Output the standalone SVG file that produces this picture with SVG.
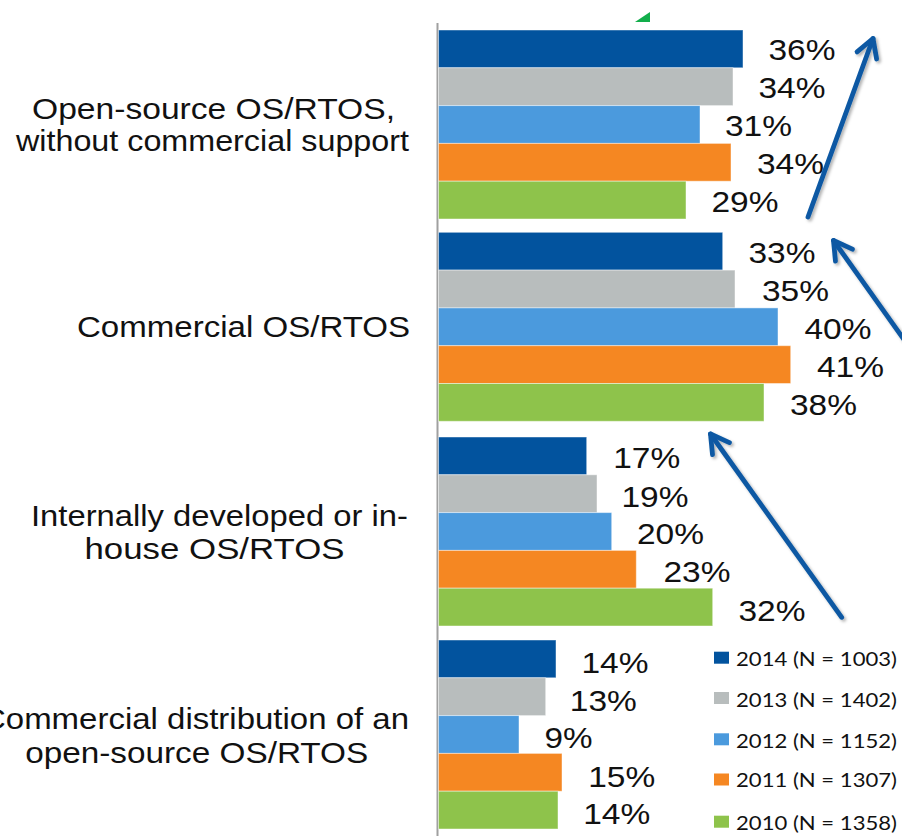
<svg xmlns="http://www.w3.org/2000/svg" width="902" height="836" viewBox="0 0 902 836">
<style>
.lbl{font-family:"Liberation Sans",Arial,sans-serif;font-size:30px;fill:#111}
.cat{font-family:"Liberation Sans",Arial,sans-serif;font-size:30px;fill:#111;text-anchor:middle}
.leg{font-family:Lato,"Liberation Sans",sans-serif;font-size:20px;fill:#111}
.y14{fill:#02539E}.y13{fill:#B8BDBD}.y12{fill:#4B9ADD}.y11{fill:#F58722}.y10{fill:#8EC34B}
.bar rect{stroke:#fff;stroke-opacity:.45;stroke-width:1}
.arr{fill:none;stroke:#0B58A3;stroke-width:4.8;stroke-linecap:round;stroke-linejoin:round}
</style>
<defs>
<filter id="sh" x="-20%" y="-20%" width="140%" height="140%">
<feDropShadow dx="2" dy="2" stdDeviation="1.5" flood-color="#000" flood-opacity="0.3"/>
</filter>
<marker id="ah" markerUnits="userSpaceOnUse" orient="auto" refX="0" refY="0" markerWidth="30" markerHeight="30" overflow="visible">
<path d="M-18,-10.4 L0,0 L-18,10.4" fill="none" stroke="#0B58A3" stroke-width="4.8" stroke-linecap="round" stroke-linejoin="round"/>
</marker>
</defs>
<rect width="902" height="836" fill="#fff"/>
<polygon points="635,22 650,22 650,12" fill="#12AE4B"/>
<line x1="437.5" y1="23" x2="437.5" y2="836" stroke="#A0A0A0" stroke-width="2"/>

<g id="open-source">
<text class="cat" x="213.5" y="119" textLength="363" lengthAdjust="spacingAndGlyphs">Open-source OS/RTOS,</text>
<text class="cat" x="212.5" y="151" textLength="393" lengthAdjust="spacingAndGlyphs">without commercial support</text>
<g class="bar">
<rect class="y14" x="438.5" y="30" width="304.5" height="37.8"/>
<rect class="y13" x="438.5" y="67.8" width="294.5" height="37.8"/>
<rect class="y12" x="438.5" y="105.6" width="261.5" height="37.8"/>
<rect class="y11" x="438.5" y="143.4" width="292.5" height="37.8"/>
<rect class="y10" x="438.5" y="181.2" width="247.5" height="37.8"/>
</g>
<text class="lbl" x="768.5" y="60" textLength="67" lengthAdjust="spacingAndGlyphs">36%</text>
<text class="lbl" x="758.5" y="98.3" textLength="67" lengthAdjust="spacingAndGlyphs">34%</text>
<text class="lbl" x="725" y="136" textLength="67" lengthAdjust="spacingAndGlyphs">31%</text>
<text class="lbl" x="757" y="174" textLength="67" lengthAdjust="spacingAndGlyphs">34%</text>
<text class="lbl" x="711.5" y="212.3" textLength="67" lengthAdjust="spacingAndGlyphs">29%</text>
</g>

<g id="commercial">
<text class="cat" x="243.5" y="337.3" textLength="333" lengthAdjust="spacingAndGlyphs">Commercial OS/RTOS</text>
<g class="bar">
<rect class="y14" x="438.5" y="232.3" width="284.2" height="37.8"/>
<rect class="y13" x="438.5" y="270.1" width="296.5" height="37.8"/>
<rect class="y12" x="438.5" y="307.9" width="339.5" height="37.8"/>
<rect class="y11" x="438.5" y="345.7" width="352.2" height="37.8"/>
<rect class="y10" x="438.5" y="383.5" width="325.5" height="37.8"/>
</g>
<text class="lbl" x="748.5" y="263.3" textLength="67" lengthAdjust="spacingAndGlyphs">33%</text>
<text class="lbl" x="762" y="301" textLength="67" lengthAdjust="spacingAndGlyphs">35%</text>
<text class="lbl" x="804.5" y="339.3" textLength="67" lengthAdjust="spacingAndGlyphs">40%</text>
<text class="lbl" x="817" y="376.7" textLength="67" lengthAdjust="spacingAndGlyphs">41%</text>
<text class="lbl" x="790" y="415" textLength="67" lengthAdjust="spacingAndGlyphs">38%</text>
</g>

<g id="in-house">
<text class="cat" x="219.5" y="525.5" textLength="377" lengthAdjust="spacingAndGlyphs">Internally developed or in-</text>
<text class="cat" x="214.5" y="558.5" textLength="260" lengthAdjust="spacingAndGlyphs">house OS/RTOS</text>
<g class="bar">
<rect class="y14" x="438.5" y="437" width="148.2" height="37.8"/>
<rect class="y13" x="438.5" y="474.8" width="158.5" height="37.8"/>
<rect class="y12" x="438.5" y="512.6" width="173.2" height="37.8"/>
<rect class="y11" x="438.5" y="550.4" width="197.8" height="37.8"/>
<rect class="y10" x="438.5" y="588.2" width="274.2" height="37.8"/>
</g>
<text class="lbl" x="613.2" y="468.3" textLength="67" lengthAdjust="spacingAndGlyphs">17%</text>
<text class="lbl" x="621.5" y="506.7" textLength="67" lengthAdjust="spacingAndGlyphs">19%</text>
<text class="lbl" x="637" y="544" textLength="67" lengthAdjust="spacingAndGlyphs">20%</text>
<text class="lbl" x="663.5" y="582.3" textLength="67" lengthAdjust="spacingAndGlyphs">23%</text>
<text class="lbl" x="738.5" y="620.7" textLength="67" lengthAdjust="spacingAndGlyphs">32%</text>
</g>

<g id="commercial-distribution">
<text class="cat" x="195.5" y="729" textLength="427" lengthAdjust="spacingAndGlyphs">Commercial distribution of an</text>
<text class="cat" x="196.7" y="763.3" textLength="343" lengthAdjust="spacingAndGlyphs">open-source OS/RTOS</text>
<g class="bar">
<rect class="y14" x="438.5" y="640" width="117.5" height="37.8"/>
<rect class="y13" x="438.5" y="677.8" width="107.2" height="37.8"/>
<rect class="y12" x="438.5" y="715.6" width="80.5" height="37.8"/>
<rect class="y11" x="438.5" y="753.4" width="123.5" height="37.8"/>
<rect class="y10" x="438.5" y="791.2" width="119.5" height="37.8"/>
</g>
<text class="lbl" x="581.5" y="673.3" textLength="67" lengthAdjust="spacingAndGlyphs">14%</text>
<text class="lbl" x="569.8" y="710.7" textLength="67" lengthAdjust="spacingAndGlyphs">13%</text>
<text class="lbl" x="544.5" y="748.3" textLength="48" lengthAdjust="spacingAndGlyphs">9%</text>
<text class="lbl" x="588.2" y="786.7" textLength="67" lengthAdjust="spacingAndGlyphs">15%</text>
<text class="lbl" x="583.2" y="824" textLength="67" lengthAdjust="spacingAndGlyphs">14%</text>
</g>

<g id="legend">
<rect class="y14" x="714" y="651.7" width="15" height="12"/>
<text class="leg" x="736" y="665.7" textLength="161" lengthAdjust="spacingAndGlyphs">2014 (N = 1003)</text>
<rect class="y13" x="714" y="692" width="15" height="12"/>
<text class="leg" x="736" y="707.3" textLength="161" lengthAdjust="spacingAndGlyphs">2013 (N = 1402)</text>
<rect class="y12" x="714" y="733.3" width="15" height="12"/>
<text class="leg" x="736" y="748.3" textLength="161" lengthAdjust="spacingAndGlyphs">2012 (N = 1152)</text>
<rect class="y11" x="714" y="773.5" width="15" height="12"/>
<text class="leg" x="736" y="786.7" textLength="161" lengthAdjust="spacingAndGlyphs">2011 (N = 1307)</text>
<rect class="y10" x="714" y="815.7" width="15" height="12"/>
<text class="leg" x="736" y="830" textLength="161" lengthAdjust="spacingAndGlyphs">2010 (N = 1358)</text>
</g>

<g id="connectors" filter="url(#sh)">
<line class="arr" x1="808" y1="217" x2="873" y2="38.5" marker-end="url(#ah)"/>
<line class="arr" x1="920" y1="362" x2="833.5" y2="240.5" marker-end="url(#ah)"/>
<line class="arr" x1="841.7" y1="617.3" x2="710.5" y2="434" marker-end="url(#ah)"/>
</g>
</svg>
